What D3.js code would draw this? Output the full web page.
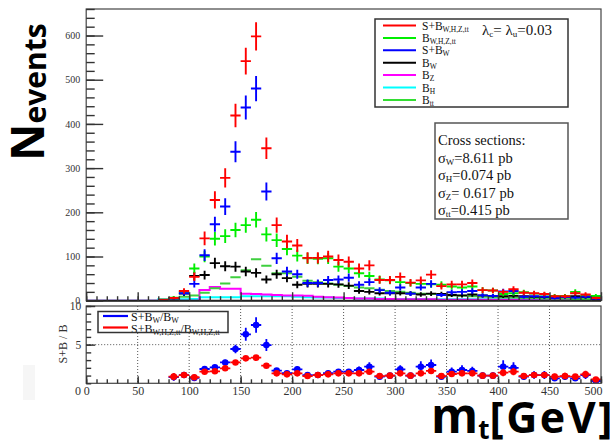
<!DOCTYPE html>
<html>
<head>
<meta charset="utf-8">
<script src="https://cdn.jsdelivr.net/npm/d3@7"></script>
<style>
  body { margin: 0; background: #fff; }
  svg { display: block; }
  .serif { font-family: "Liberation Serif", "DejaVu Serif", serif; }
</style>
</head>
<body>
<svg id="chart" width="610" height="442"></svg>
<script>
// Transverse mass bins: 10 GeV wide, 0-500 GeV (bin centres)
const binCenters = [5,15,25,35,45,55,65,75,85,95,105,115,125,135,145,155,165,175,185,195,
  205,215,225,235,245,255,265,275,285,295,305,315,325,335,345,355,365,375,385,395,
  405,415,425,435,445,455,465,475,485,495];

// Event counts per bin
const sbAll = [0,0,0,0,0,0,0,2,6,22,54,141,228,278,419,542,598,345,171,134,
  125,97,97,100,92,88,73,80,47,47,54,41,46,59,33,37,37,40,24,23,
  20,26,18,17,15,10,10,17,14,6];
const bAll  = [0,0,0,0,0,0,0,2,7,20,73,100,140,146,160,171,183,150,137,117,
  102,96,95,96,77,73,62,56,48,46,42,40,38,37,36,32,30,32,24,23,
  15,17,19,16,14,11,11,20,12,11];
const sbW   = [0,0,0,0,0,0,0,1,5,17,38,103,173,213,337,437,480,247,96,66,
  60,40,40,47,48,52,36,42,24,18,30,16,30,38,13,19,20,22,12,11,
  21,22,9,10,9,6,8,7,9,3];
const bW    = [0,0,0,0,0,0,0,1,6,16,56,58,85,78,77,66,63,48,60,51,
  36,38,38,38,37,34,22,20,17,17,17,16,14,16,15,13,12,14,12,11,
  10,11,10,9,8,9,9,10,8,8];
const bZ    = [0,0,0,0,0,0,0,0,0,0,0,24,31,27,27,16,15,14,13,12,
  12,11,9,8,7,6,5,5,4,4,3,3,3,3,2,2,2,2,2,2,
  2,2,1,1,1,1,1,1,1,1];
const bH    = [0,0,0,0,0,0,0,3,3,3,4,8,8,8,8,10,10,10,10,10,
  9,8,7,7,6,6,5,5,5,4,4,4,4,3,3,3,3,3,3,3,
  3,3,3,3,3,3,3,2,2,2];
const bTT   = [0,0,0,0,0,0,0,0,4,9,12,18,28,39,53,69,94,79,62,62,
  54,45,42,39,36,33,30,28,25,22,20,18,16,15,13,12,11,10,9,8,
  7,7,6,6,5,5,5,4,4,4];

// Ratios (S+B)/B per bin
const ratioAll = [null,null,null,null,null,null,null,null,0.86,1.07,0.78,1.5,1.55,1.94,2.7,3.23,3.32,2.28,1.29,1.16,
  1.29,0.94,1.07,1.16,1.29,1.29,1.29,1.5,0.94,0.99,1.29,0.99,1.29,1.6,0.94,1.2,1.29,1.29,0.99,0.99,
  1.37,1.5,0.94,1.07,1.07,0.86,0.94,0.86,1.16,0.5];
const ratioW = [null,null,null,null,null,null,null,null,0.8,1.07,0.7,1.85,2.07,2.7,4.44,6.34,7.54,4.95,1.65,1.3,
  1.81,1.07,1.07,1.3,1.5,1.5,1.72,2.15,0.86,0.99,1.8,0.99,2.15,2.37,0.86,1.5,1.72,1.6,0.99,0.99,
  2.15,2.0,0.86,1.07,1.07,0.65,0.86,0.65,1.07,0.3];

// Axis ticks
const topMajorTicks = [0,100,200,300,400,500,600];
const botYLabels = [5,10];
const xMajorTicks = [0,50,100,150,200,250,300,350,400,450,500];

const svg = d3.select("#chart");
const binWidth = 10;

const x  = d3.scaleLinear().domain([0, 500]).range([86.2, 601]);
const yT = d3.scaleLinear().domain([0, 660]).range([300.7, 9]);
const yB = d3.scaleLinear().domain([0, 10]).range([383.3, 306]);

const defs = svg.append("defs");
defs.append("clipPath").attr("id", "clipTop").append("rect")
  .attr("x", x(0)).attr("y", yT(660)).attr("width", x(500) - x(0)).attr("height", yT(0) - yT(660));
defs.append("clipPath").attr("id", "clipBot").append("rect")
  .attr("x", x(0)).attr("y", yB(10)).attr("width", x(500) - x(0)).attr("height", yB(0) - yB(10));

// faint patch at lower left
svg.append("rect").attr("x", 23).attr("y", 365).attr("width", 12).attr("height", 35).attr("fill", "#f6f6f6");

// ---------------- upper pad ----------------
const topPad = svg.append("g").attr("clip-path", "url(#clipTop)");

function stepHist(vals, color) {
  const pts = binCenters.map((c, i) => [c - binWidth / 2, vals[i]]);
  pts.push([500, vals[vals.length - 1]]);
  topPad.append("path")
    .attr("d", d3.line().x(d => x(d[0])).y(d => yT(d[1])).curve(d3.curveStepAfter)(pts))
    .attr("fill", "none").attr("stroke", color).attr("stroke-width", 2);
}
stepHist(bH, "#00ffff");
stepHist(bZ, "#ff00ff");

// ttbar background: horizontal bin segments
const ttData = binCenters.map((c, i) => ({ c, v: bTT[i] })).filter(d => d.v > 0);
topPad.append("g").selectAll("line").data(ttData).join("line")
  .attr("x1", d => x(d.c - binWidth / 2)).attr("x2", d => x(d.c + binWidth / 2))
  .attr("y1", d => yT(d.v)).attr("y2", d => yT(d.v))
  .attr("stroke", "#3fcf3f").attr("stroke-width", 2);

function crosses(vals, color) {
  const data = binCenters.map((c, i) => ({ c, v: vals[i] })).filter(d => d.v > 0);
  const g = topPad.append("g").attr("stroke", color).attr("stroke-width", 1.9);
  g.selectAll("line.h").data(data).join("line").attr("class", "h")
    .attr("x1", d => x(d.c - binWidth / 2)).attr("x2", d => x(d.c + binWidth / 2))
    .attr("y1", d => yT(d.v)).attr("y2", d => yT(d.v));
  g.selectAll("line.v").data(data).join("line").attr("class", "v")
    .attr("x1", d => x(d.c)).attr("x2", d => x(d.c))
    .attr("y1", d => yT(d.v + 1.3 * Math.sqrt(d.v))).attr("y2", d => yT(Math.max(0, d.v - 1.3 * Math.sqrt(d.v))));
}
crosses(bW, "#000000");
crosses(bAll, "#00ee00");
crosses(sbW, "#0000ff");
crosses(sbAll, "#ff0000");

// upper frame
svg.append("rect").attr("x", x(0)).attr("y", yT(660)).attr("width", x(500) - x(0)).attr("height", yT(0) - yT(660))
  .attr("fill", "none").attr("stroke", "#444").attr("stroke-width", 1.2);
svg.append("line").attr("x1", x(0)).attr("x2", x(500)).attr("y1", yT(0)).attr("y2", yT(0))
  .attr("stroke", "#222").attr("stroke-width", 2);

// upper y axis
const axTopMinor = svg.append("g").attr("transform", `translate(${x(0)},0)`)
  .call(d3.axisLeft(yT).tickValues(d3.range(0, 661, 20)).tickSize(-8.5).tickFormat(""));
const axTopMajor = svg.append("g").attr("transform", `translate(${x(0)},0)`)
  .call(d3.axisLeft(yT).tickValues(topMajorTicks).tickSize(-17).tickPadding(6).tickFormat(d3.format("d")));
// upper x axis ticks
const axTopX1 = svg.append("g").attr("transform", `translate(0,${yT(0)})`)
  .call(d3.axisBottom(x).tickValues(d3.range(0, 501, 10)).tickSize(-4.5).tickFormat(""));
const axTopX2 = svg.append("g").attr("transform", `translate(0,${yT(0)})`)
  .call(d3.axisBottom(x).tickValues(xMajorTicks).tickSize(-8.5).tickFormat(""));

// ---------------- lower pad ----------------
const gridG = svg.append("g").attr("stroke", "#555").attr("stroke-width", 1).attr("stroke-dasharray", "1,2");
gridG.selectAll("line.gx").data(xMajorTicks.slice(1, -1)).join("line").attr("class", "gx")
  .attr("x1", d => x(d)).attr("x2", d => x(d)).attr("y1", yB(10)).attr("y2", yB(0));
gridG.append("line").attr("x1", x(0)).attr("x2", x(500)).attr("y1", yB(5)).attr("y2", yB(5));

const botPad = svg.append("g").attr("clip-path", "url(#clipBot)");
function ratioPoints(vals, num, den, color) {
  const data = binCenters.map((c, i) => ({ c, v: vals[i], n: num[i], d: den[i] })).filter(d => d.v != null);
  data.forEach(d => { d.e = d.v * Math.sqrt(1 / Math.max(d.n, 1) + 1 / Math.max(d.d, 1)); });
  const g = botPad.append("g");
  g.selectAll("line.h").data(data).join("line").attr("class", "h")
    .attr("x1", d => x(d.c - binWidth / 2)).attr("x2", d => x(d.c + binWidth / 2))
    .attr("y1", d => yB(d.v)).attr("y2", d => yB(d.v)).attr("stroke", color).attr("stroke-width", 1.8);
  g.selectAll("line.v").data(data).join("line").attr("class", "v")
    .attr("x1", d => x(d.c)).attr("x2", d => x(d.c))
    .attr("y1", d => yB(d.v + d.e)).attr("y2", d => yB(Math.max(0, d.v - d.e))).attr("stroke", color).attr("stroke-width", 1.8);
  g.selectAll("circle").data(data).join("circle")
    .attr("cx", d => x(d.c)).attr("cy", d => yB(d.v)).attr("r", 3.3).attr("fill", color);
}
ratioPoints(ratioW, sbW, bW, "#0000ff");
ratioPoints(ratioAll, sbAll, bAll, "#ff0000");

svg.append("rect").attr("x", x(0)).attr("y", yB(10)).attr("width", x(500) - x(0)).attr("height", yB(0) - yB(10))
  .attr("fill", "none").attr("stroke", "#444").attr("stroke-width", 1.2);

const axBotYMinor = svg.append("g").attr("transform", `translate(${x(0)},0)`)
  .call(d3.axisLeft(yB).tickValues(d3.range(0, 11, 1)).tickSize(-5).tickFormat(""));
const axBotYMajor = svg.append("g").attr("transform", `translate(${x(0)},0)`)
  .call(d3.axisLeft(yB).tickValues(botYLabels).tickSize(-9).tickPadding(5).tickFormat(d3.format("d")));
const axBotX1 = svg.append("g").attr("transform", `translate(0,${yB(0)})`)
  .call(d3.axisBottom(x).tickValues(d3.range(0, 501, 10)).tickSize(-4).tickFormat(""));
const axBotX2 = svg.append("g").attr("transform", `translate(0,${yB(0)})`)
  .call(d3.axisBottom(x).tickValues(xMajorTicks).tickSize(-7).tickPadding(3).tickFormat(d3.format("d")));

[axTopMinor, axTopMajor, axTopX1, axTopX2, axBotYMinor, axBotYMajor, axBotX1, axBotX2].forEach(a => {
  a.select(".domain").remove();
  a.selectAll(".tick line").attr("stroke", "#333").attr("stroke-width", 1.4);
  a.selectAll("text").attr("font-family", "Liberation Serif, serif").attr("fill", "#333");
});
axTopMajor.selectAll("text").attr("font-size", 10);
axBotYMajor.selectAll("text").attr("font-size", 11.5);
axBotX2.selectAll("text").attr("font-size", 12);
axBotX2.selectAll(".tick").filter(d => d === 500).select("text").attr("text-anchor", "end").attr("dx", 1);
// zero of the ratio axis
svg.append("text").attr("class", "serif").attr("x", 81).attr("y", 394.5).attr("text-anchor", "end")
  .attr("font-size", 12).attr("fill", "#333").text("0");

// ---------------- legends ----------------
function subText(sel, parts, size, subSize) {
  parts.forEach(p => {
    const t = sel.append("tspan").text(p.t);
    if (p.sub) t.attr("font-size", subSize).attr("baseline-shift", "-1.5");
    else t.attr("font-size", size);
  });
}

const legItems = [
  { color: "#ff0000", parts: [{ t: "S+B" }, { t: "W,H,Z,tt", sub: true }] },
  { color: "#00ee00", parts: [{ t: "B" }, { t: "W,H,Z,tt", sub: true }] },
  { color: "#0000ff", parts: [{ t: "S+B" }, { t: "W", sub: true }] },
  { color: "#000000", parts: [{ t: "B" }, { t: "W", sub: true }] },
  { color: "#ff00ff", parts: [{ t: "B" }, { t: "Z", sub: true }] },
  { color: "#00ffff", parts: [{ t: "B" }, { t: "H", sub: true }] },
  { color: "#33dd33", parts: [{ t: "B" }, { t: "tt", sub: true }] }
];
const leg = svg.append("g");
leg.append("rect").attr("x", 375).attr("y", 19).attr("width", 193).attr("height", 88).attr("fill", "#fff");
legItems.forEach((it, i) => {
  const yy = 25.5 + i * 12.4;
  leg.append("line").attr("x1", 383).attr("x2", 416).attr("y1", yy).attr("y2", yy)
    .attr("stroke", it.color).attr("stroke-width", 2);
  const t = leg.append("text").attr("class", "serif").attr("x", 422).attr("y", yy + 4).attr("fill", "#111");
  subText(t, it.parts, 11.5, 7.5);
});
const lam = leg.append("text").attr("class", "serif").attr("x", 482).attr("y", 35).attr("fill", "#111");
subText(lam, [{ t: "λ" }, { t: "c", sub: true }, { t: "= λ" }, { t: "u", sub: true }, { t: "=0.03" }], 15, 9);
leg.append("rect").attr("x", 375).attr("y", 19).attr("width", 193).attr("height", 88)
  .attr("fill", "none").attr("stroke", "#333").attr("stroke-width", 1.5);

// cross-section box
const xs = svg.append("g");
xs.append("rect").attr("x", 435).attr("y", 123).attr("width", 133).attr("height", 96)
  .attr("fill", "#fff").attr("stroke", "#555").attr("stroke-width", 1.5);
const xsLines = [
  [{ t: "Cross sections:" }],
  [{ t: "σ" }, { t: "W", sub: true }, { t: "=8.611 pb" }],
  [{ t: "σ" }, { t: "H", sub: true }, { t: "=0.074 pb" }],
  [{ t: "σ" }, { t: "Z", sub: true }, { t: "= 0.617 pb" }],
  [{ t: "σ" }, { t: "tt", sub: true }, { t: "=0.415 pb" }]
];
xsLines.forEach((parts, i) => {
  const t = xs.append("text").attr("class", "serif").attr("x", 438).attr("y", 145 + i * 17.5).attr("fill", "#111");
  subText(t, parts, 14.5, 9);
});

// ratio legend
const rl = svg.append("g");
rl.append("rect").attr("x", 98).attr("y", 311.5).attr("width", 130).attr("height", 21).attr("fill", "#fff");
rl.append("line").attr("x1", 103).attr("x2", 128).attr("y1", 316).attr("y2", 316).attr("stroke", "#0000ff").attr("stroke-width", 2.2);
rl.append("line").attr("x1", 103).attr("x2", 128).attr("y1", 327.5).attr("y2", 327.5).attr("stroke", "#ff0000").attr("stroke-width", 2.2);
const r1 = rl.append("text").attr("class", "serif").attr("x", 131).attr("y", 320.5).attr("fill", "#111");
subText(r1, [{ t: "S+B" }, { t: "W", sub: true }, { t: "/B" }, { t: "W", sub: true }], 12, 8);
const r2 = rl.append("text").attr("class", "serif").attr("x", 131).attr("y", 332.5).attr("fill", "#111");
subText(r2, [{ t: "S+B" }, { t: "W,H,Z,tt", sub: true }, { t: "/B" }, { t: "W,H,Z,tt", sub: true }], 12, 8);
rl.append("rect").attr("x", 98).attr("y", 311.5).attr("width", 130).attr("height", 21)
  .attr("fill", "none").attr("stroke", "#333").attr("stroke-width", 1.5);

// ---------------- axis titles ----------------
svg.append("text").attr("class", "serif")
  .attr("transform", "translate(67,344) rotate(-90)").attr("text-anchor", "middle")
  .attr("font-size", 12).attr("fill", "#333").text("S+B / B");

const nt = svg.append("text").attr("transform", "translate(44,161) rotate(-90)")
  .attr("font-family", "Open Sans, sans-serif").attr("font-weight", 700).attr("fill", "#000");
nt.append("tspan").attr("font-size", 46).text("N");
nt.append("tspan").attr("font-size", 30).attr("dy", 2).text("events");

const mt = svg.append("text").attr("x", 431).attr("y", 433)
  .attr("font-family", "Open Sans, sans-serif").attr("font-weight", 700).attr("fill", "#000");
mt.append("tspan").attr("font-size", 48).text("m");
mt.append("tspan").attr("font-size", 26).attr("dy", 6).text("t");
mt.append("tspan").attr("font-size", 43).attr("dy", -6).attr("letter-spacing", 2.5).text("[GeV]");
</script>
</body>
</html>
